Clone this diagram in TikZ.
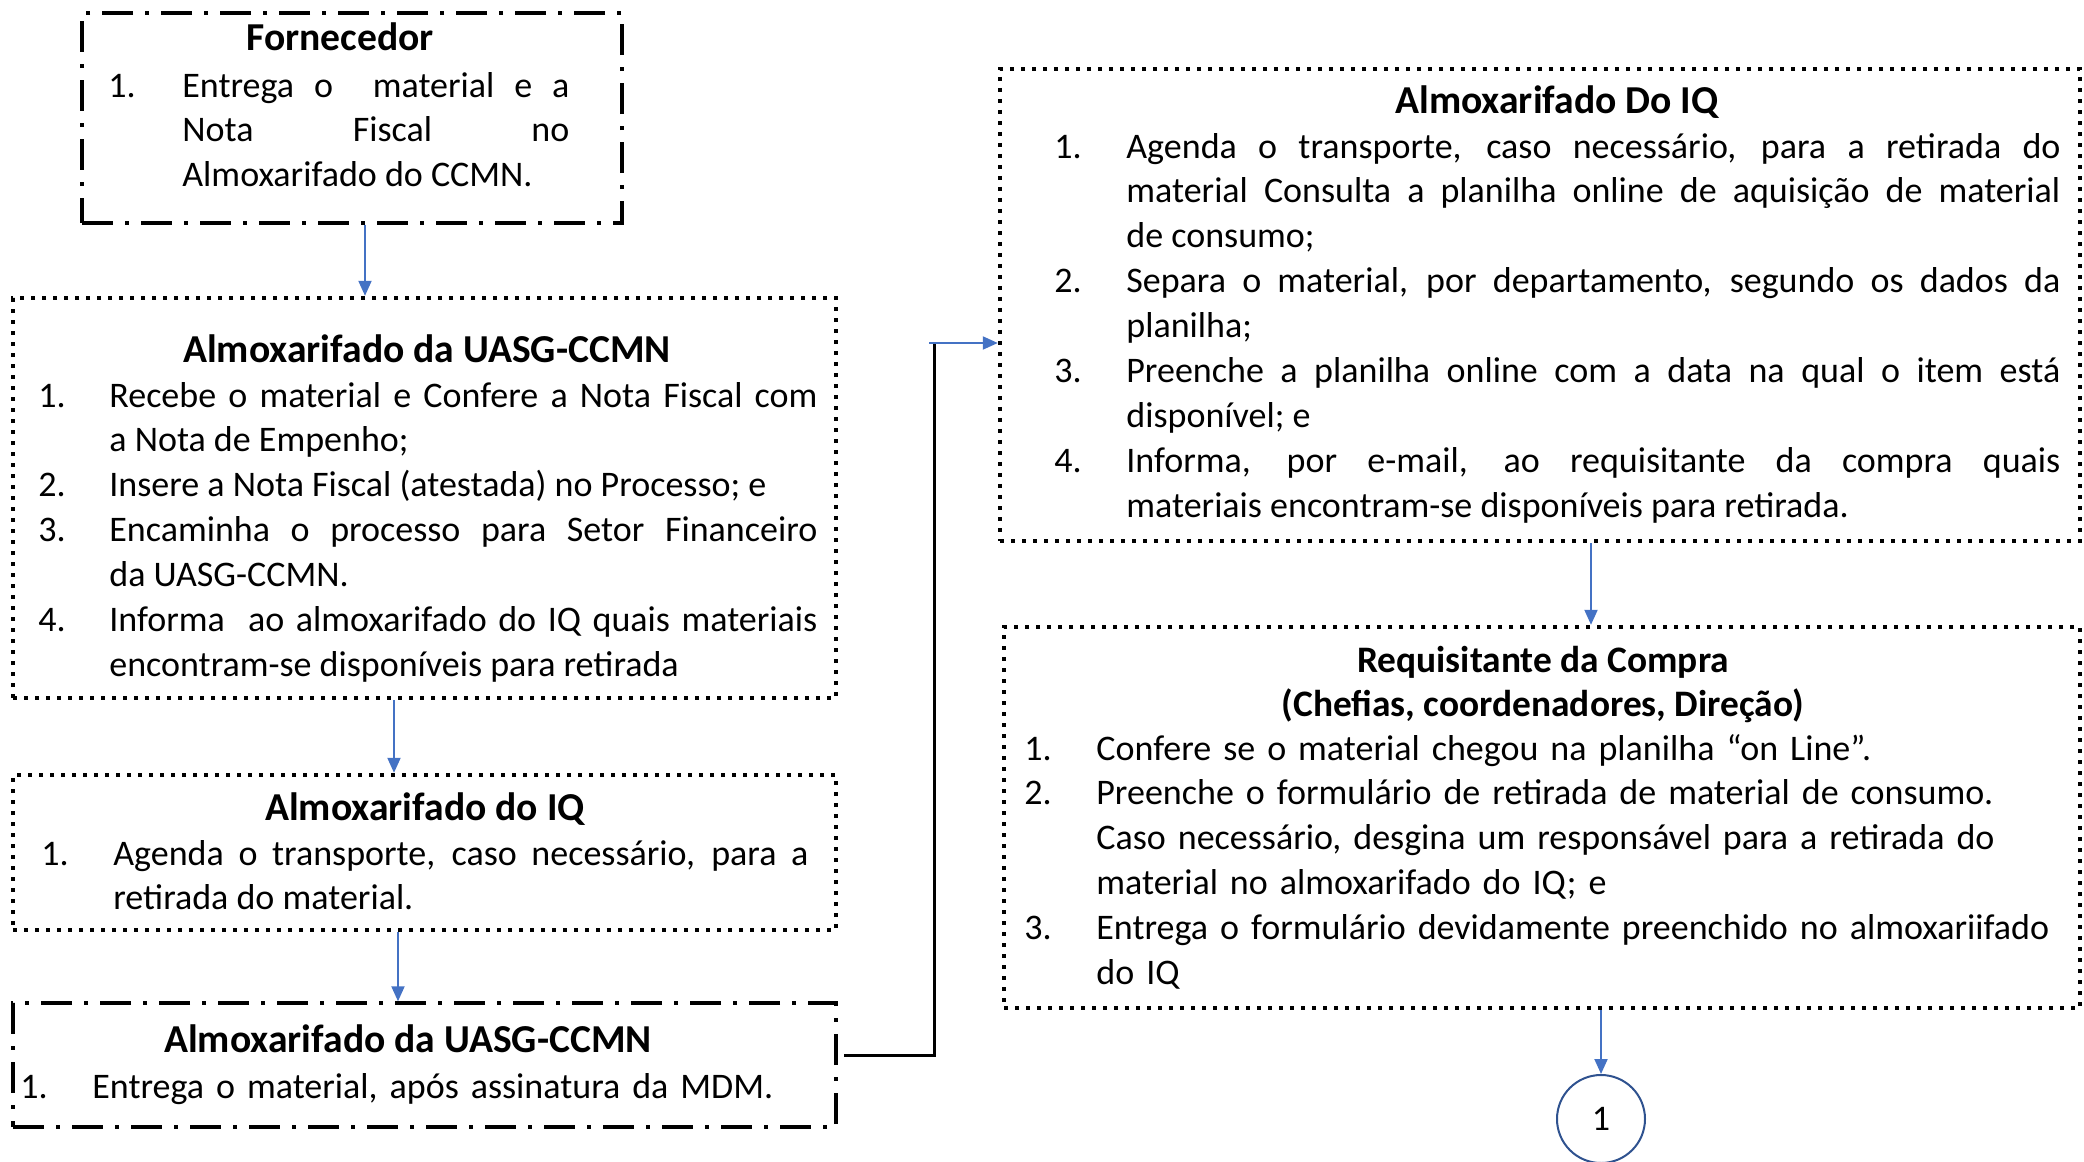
\documentclass[tikz,border=0pt]{standalone}
\usepackage{fontspec}
\setmainfont{Carlito}
\usetikzlibrary{arrows.meta,fit}
\definecolor{arrblue}{RGB}{68,114,196}
\definecolor{cblue}{RGB}{47,82,143}
\newlength\itind
\newcommand\myitem[2]{\noindent\hangindent=\itind\hangafter=1\relax\makebox[\itind][l]{#1}#2\par}
\begin{document}
\begin{tikzpicture}[x=0.5pt,y=-0.5pt,
  every node/.style={font=\fontsize{18pt}{22.45pt}\selectfont},
  dotbox/.style={draw, line width=2.2pt, dash pattern=on 2.1pt off 3.4pt, inner sep=0pt},
  dashdotbox/.style={draw, line width=1.7pt, dash pattern=on 15.5pt off 6pt on 2pt off 6pt, inner sep=0pt},
  ttl/.style={anchor=base, inner sep=0pt, font=\fontsize{19.8pt}{24pt}\selectfont\bfseries},
  ttlsm/.style={anchor=base, inner sep=0pt, font=\fontsize{18.7pt}{24pt}\selectfont\bfseries},
  lst/.style={anchor=base west, inner sep=0pt, execute at begin node={\hyphenpenalty=10000\exhyphenpenalty=10000\tolerance=9999\hbadness=10000\parindent=0pt}},
  arr/.style={draw=arrblue, line width=1pt, -{Triangle[length=7.5pt,width=6.5pt]}},
  blk/.style={draw=black, line width=1.5pt}]
\useasboundingbox (0,0) rectangle (2084,1162);

% boxes
\node[dashdotbox, fit={(82,13)(622,223)}] (b1) {};
\node[dotbox, fit={(13,298)(836,698)}] (b2) {};
\node[dotbox, fit={(13,775)(836,930)}] (b3) {};
\node[dashdotbox, fit={(13,1003)(836,1127)}] (b4) {};
\node[dotbox, fit={(1000,69)(2080,541)}] (b5) {};
\node[dotbox, fit={(1004,627)(2080,1008)}] (b6) {};
\node[circle, draw=cblue, line width=1pt, minimum size=44pt, inner sep=0pt] (c) at (1601,1119) {1};

% box 1
\node[ttl] (h1) at (340,50) {Fornecedor};
\node[lst, text width=230.5pt, align=justify] (t1) at (108,97) {\setlength\itind{37pt}%
\myitem{1.}{Entrega o\ \ material e a\linebreak Nota Fiscal no\linebreak Almoxarifado do CCMN.}};

% box 2
\node[ttl] (h2) at (427,362) {Almoxarifado da UASG-CCMN};
\node[lst, text width=389.5pt, align=justify] (t2) at (38,407) {\setlength\itind{35.5pt}%
\myitem{1.}{Recebe o material e Confere a Nota Fiscal com\linebreak a Nota de Empenho;}%
\myitem{2.}{Insere a Nota Fiscal (atestada) no Processo; e}%
\myitem{3.}{Encaminha o processo para Setor Financeiro\linebreak da UASG-CCMN.}%
\myitem{4.}{Informa\ \ ao almoxarifado do IQ quais materiais\linebreak encontram-se disponíveis para retirada}};

% box 3
\node[ttl] (h3) at (425,820) {Almoxarifado do IQ};
\node[lst, text width=383.5pt, align=justify] (t3) at (41,865) {\setlength\itind{36pt}%
\myitem{1.}{Agenda o transporte, caso necessário, para a\linebreak retirada do material.}};

% box 4
\node[ttl] (h4) at (408,1052) {Almoxarifado da UASG-CCMN};
\node[lst, text width=400pt, align=left] (t4) at (20,1098) {\setlength\itind{36pt}%
\myitem{1.}{Entrega o material, após assinatura da MDM.}};

% box 5
\node[ttl] (h5) at (1557,113) {Almoxarifado Do IQ};
\node[lst, text width=503pt, align=justify] (t5) at (1054,158) {\setlength\itind{36pt}%
\myitem{1.}{Agenda o transporte, caso necessário, para a retirada do\linebreak material Consulta a planilha online de aquisição de material\linebreak de consumo;}%
\myitem{2.}{Separa o material, por departamento, segundo os dados da\linebreak planilha;}%
\myitem{3.}{Preenche a planilha online com a data na qual o item está\linebreak disponível; e}%
\myitem{4.}{Informa, por e-mail, ao requisitante da compra quais\linebreak materiais encontram-se disponíveis para retirada.}};

% box 6
\node[ttlsm] (h6) at (1543,672) {Requisitante da Compra};
\node[ttlsm] (h6b) at (1543,716) {(Chefias, coordenadores, Direção)};
\node[lst, text width=530pt, align=left] (t6) at (1024,760) {\setlength\itind{36pt}%
\myitem{1.}{Confere se o material chegou na planilha “on Line”.}%
\myitem{2.}{Preenche o formulário de retirada de material de consumo.\linebreak Caso necessário, desgina um responsável para a retirada do\linebreak material no almoxarifado do IQ; e}%
\myitem{3.}{Entrega o formulário devidamente preenchido no almoxariifado\linebreak do IQ}};

% connectors
\coordinate (x1) at (365,0);
\coordinate (x2) at (394,0);
\coordinate (x3) at (398,0);
\coordinate (x5) at (1591,0);
\draw[arr] (b1.south -| x1) -- (b2.north -| x1);
\draw[arr] (b2.south -| x2) -- (b3.north -| x2);
\draw[arr] (b3.south -| x3) -- (b4.north -| x3);
\draw[arr] (b5.south -| x5) -- (b6.north -| x5);
\draw[arr] (b6.south -| c.north) -- (c.north);
\coordinate (k1) at (844,1055);
\coordinate (k2) at (934,343);
\coordinate (k3) at (929,343);
\draw[blk] (k1) -| (k2);
\draw[arr] (k3) -- (k3 -| b5.west);
\end{tikzpicture}
\end{document}
